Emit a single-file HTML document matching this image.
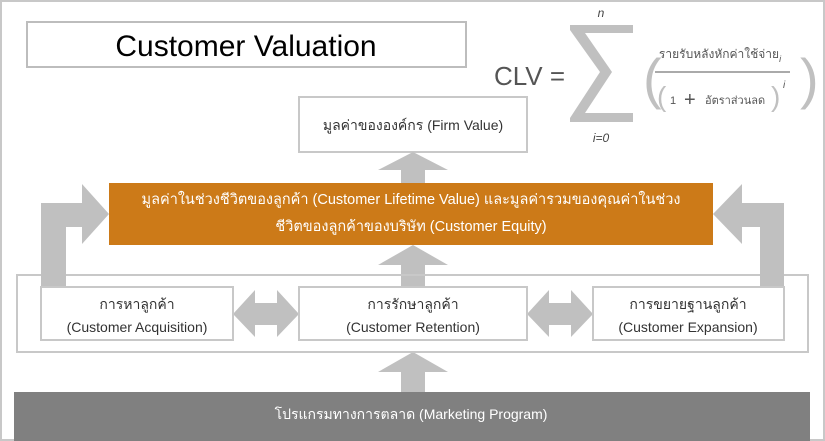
<!DOCTYPE html>
<html><head><meta charset="utf-8"><style>
html,body{margin:0;padding:0;background:#fff}
svg{display:block}
text{font-family:"Liberation Sans","Noto Sans CJK SC",sans-serif}
</style></head><body>
<svg width="825" height="441" viewBox="0 0 825 441" xmlns="http://www.w3.org/2000/svg">
<rect x="1" y="1" width="823" height="439" fill="#fff" stroke="#c8c8c8" stroke-width="2"/>
<!-- title -->
<rect x="27" y="22" width="439" height="45" fill="#fff" stroke="#bdbdbd" stroke-width="2"/>
<text x="246" y="56" font-size="30" text-anchor="middle" fill="#000">Customer Valuation</text>
<!-- formula -->
<text x="494" y="85" font-size="26" fill="#555">CLV =</text>
<polygon points="570,25 633,25 633,33 585,33 612,72 585,113 633,113 633,122 570,122 570,118 600,72 570,30" fill="#c0c0c0"/>
<text x="601" y="17" font-size="12" font-style="italic" text-anchor="middle" fill="#444" font-family="Liberation Serif">n</text>
<text x="601" y="142" font-size="12" font-style="italic" text-anchor="middle" fill="#444" font-family="Liberation Serif">i=0</text>
<text x="643" y="98" font-size="56" fill="#c0c0c0" font-family="Liberation Serif">(</text>
<text x="800" y="98" font-size="56" fill="#c0c0c0" font-family="Liberation Serif">)</text>
<text x="720" y="58" font-size="12" text-anchor="middle" fill="#555">รายรับหลังหักค่าใช้จ่าย<tspan font-size="9" font-style="italic" dy="4">i</tspan></text>
<rect x="655" y="71" width="135" height="2" fill="#aaa"/>
<text x="657" y="106" font-size="28" fill="#c0c0c0" font-family="Liberation Serif">(</text>
<text x="670" y="104" font-size="11" fill="#555" font-family="Liberation Serif">1</text>
<text x="684" y="106" font-size="20" fill="#555">+</text>
<text x="705" y="104" font-size="11" fill="#555">อัตราส่วนลด</text>
<text x="771" y="106" font-size="28" fill="#c0c0c0" font-family="Liberation Serif">)</text>
<text x="783" y="88" font-size="10" font-style="italic" fill="#555" font-family="Liberation Serif">i</text>
<!-- firm value -->
<rect x="299" y="97" width="228" height="55" fill="#fff" stroke="#c8c8c8" stroke-width="2"/>
<text x="413" y="130" font-size="14" text-anchor="middle" fill="#333">มูลค่าขององค์กร (Firm Value)</text>
<!-- arrows -->
<g fill="#c0c0c0">
<polygon points="413,152 448,170 425,170 425,184 401,184 401,170 378,170"/>
<polygon points="413,245 448,265 425,265 425,287 401,287 401,265 378,265"/>
<polygon points="413,352 448,372 425,372 425,393 401,393 401,372 378,372"/>
<polygon points="41,287 41,203 82,203 82,184 109,214 82,244 82,227 66,227 66,287"/>
<polygon points="784,287 784,203 742,203 742,184 713,214 742,244 742,227 760,227 760,287"/>
<polygon points="233,314 255,290 255,303 277,303 277,290 299,314 277,337 277,325 255,325 255,337"/>
<polygon points="527,314 549,290 549,303 571,303 571,290 593,314 571,337 571,325 549,325 549,337"/>
</g>
<!-- orange -->
<rect x="109" y="183" width="604" height="62" fill="#cc7a18"/>
<text x="411" y="204" font-size="14.5" text-anchor="middle" fill="#fff">มูลค่าในช่วงชีวิตของลูกค้า (Customer Lifetime Value) และมูลค่ารวมของคุณค่าในช่วง</text>
<text x="411" y="231" font-size="14.5" text-anchor="middle" fill="#fff">ชีวิตของลูกค้าของบริษัท (Customer Equity)</text>
<!-- outer box -->
<path d="M41,275 H17 V352 H808 V275 H784 M66,275 H760" fill="none" stroke="#c8c8c8" stroke-width="2"/>
<rect x="41" y="287" width="192" height="53" fill="#fff" stroke="#c8c8c8" stroke-width="2"/>
<rect x="299" y="287" width="228" height="53" fill="#fff" stroke="#c8c8c8" stroke-width="2"/>
<rect x="593" y="287" width="191" height="53" fill="#fff" stroke="#c8c8c8" stroke-width="2"/>
<g font-size="14" text-anchor="middle" fill="#333">
<text x="137" y="309">การหาลูกค้า</text>
<text x="137" y="332">(Customer Acquisition)</text>
<text x="413" y="309">การรักษาลูกค้า</text>
<text x="413" y="332">(Customer Retention)</text>
<text x="688" y="309">การขยายฐานลูกค้า</text>
<text x="688" y="332">(Customer Expansion)</text>
</g>
<!-- bottom -->
<rect x="14" y="392" width="796" height="49" fill="#808080"/>
<text x="411" y="419" font-size="14" text-anchor="middle" fill="#fff">โปรแกรมทางการตลาด (Marketing Program)</text>
</svg>
</body></html>
